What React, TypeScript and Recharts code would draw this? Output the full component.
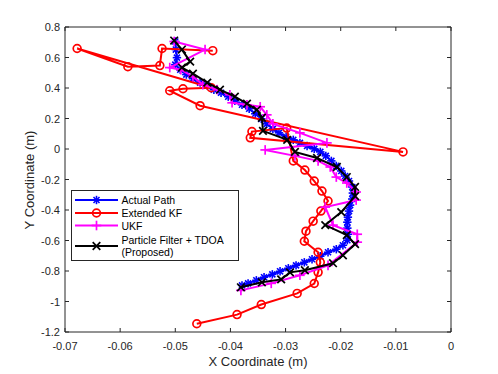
import React from 'react';
import { ScatterChart, Scatter, XAxis, YAxis } from 'recharts';

const actualX = [-0.0500,-0.0499,-0.0497,-0.0500,-0.0491,-0.0480,-0.0468,-0.0455,-0.0442,-0.0430,-0.0417,-0.0404,-0.0392,-0.0379,-0.0366,-0.0355,-0.0344,-0.0334,-0.0323,-0.0312,-0.0299,-0.0286,-0.0274,-0.0261,-0.0248,-0.0237,-0.0227,-0.0217,-0.0208,-0.0199,-0.0192,-0.0185,-0.0179,-0.0178,-0.0179,-0.0183,-0.0185,-0.0187,-0.0188,-0.0188,-0.0187,-0.0188,-0.0196,-0.0208,-0.0223,-0.0237,-0.0252,-0.0266,-0.0281,-0.0295,-0.0310,-0.0324,-0.0339,-0.0353,-0.0368,-0.0379];
const actualY = [0.705,0.652,0.599,0.553,0.520,0.488,0.461,0.435,0.415,0.389,0.369,0.343,0.316,0.290,0.264,0.231,0.198,0.165,0.132,0.106,0.080,0.060,0.040,0.020,0.001,-0.019,-0.045,-0.078,-0.111,-0.144,-0.177,-0.210,-0.249,-0.289,-0.328,-0.368,-0.407,-0.447,-0.480,-0.519,-0.559,-0.598,-0.631,-0.657,-0.677,-0.703,-0.723,-0.743,-0.763,-0.782,-0.802,-0.822,-0.841,-0.861,-0.881,-0.894];

const ekfX = [-0.0432,-0.0524,-0.0528,-0.0586,-0.0678,-0.0435,-0.0486,-0.0510,-0.0455,-0.0087,-0.0364,-0.0361,-0.0298,-0.0286,-0.0265,-0.0248,-0.0234,-0.0223,-0.0236,-0.0250,-0.0263,-0.0266,-0.0241,-0.0237,-0.0241,-0.0248,-0.0279,-0.0344,-0.0388,-0.0461];
const ekfY = [0.645,0.659,0.547,0.540,0.659,0.402,0.395,0.382,0.284,-0.019,0.073,0.114,0.137,-0.078,-0.138,-0.210,-0.276,-0.341,-0.407,-0.473,-0.539,-0.605,-0.677,-0.743,-0.809,-0.882,-0.947,-1.020,-1.086,-1.146];

const ukfX = [-0.0502,-0.0446,-0.0510,-0.0490,-0.0468,-0.0450,-0.0424,-0.0401,-0.0397,-0.0370,-0.0346,-0.0334,-0.0323,-0.0274,-0.0225,-0.0337,-0.0283,-0.0241,-0.0219,-0.0208,-0.0189,-0.0172,-0.0172,-0.0228,-0.0214,-0.0170,-0.0170,-0.0223,-0.0274,-0.0326,-0.0381];
const ukfY = [0.705,0.652,0.534,0.520,0.474,0.422,0.389,0.356,0.303,0.290,0.277,0.224,0.165,0.106,0.040,-0.006,-0.045,-0.078,-0.118,-0.184,-0.223,-0.282,-0.335,-0.381,-0.499,-0.559,-0.611,-0.763,-0.828,-0.881,-0.927];

const pfX = [-0.0502,-0.0488,-0.0473,-0.0488,-0.0468,-0.0442,-0.0419,-0.0392,-0.0370,-0.0352,-0.0343,-0.0341,-0.0297,-0.0283,-0.0243,-0.0207,-0.0189,-0.0174,-0.0174,-0.0199,-0.0228,-0.0189,-0.0174,-0.0196,-0.0214,-0.0265,-0.0292,-0.0308,-0.0343,-0.0381];
const pfY = [0.711,0.652,0.573,0.534,0.494,0.435,0.389,0.343,0.297,0.257,0.205,0.119,0.060,-0.019,-0.059,-0.118,-0.184,-0.249,-0.309,-0.414,-0.499,-0.565,-0.624,-0.697,-0.749,-0.795,-0.809,-0.855,-0.874,-0.907];

const xTicks = [-0.07,-0.06,-0.05,-0.04,-0.03,-0.02,-0.01,0];
const yTicks = [-1.2,-1,-0.8,-0.6,-0.4,-0.2,0,0.2,0.4,0.6,0.8];

const seriesNames = ['Actual Path','Extended KF','UKF','Particle Filter + TDOA','(Proposed)'];

const zip = (xs: number[], ys: number[]) => xs.map((x, i) => ({ x, y: ys[i] }));
const actualData = zip(actualX, actualY);
const ekfData = zip(ekfX, ekfY);
const ukfData = zip(ukfX, ukfY);
const pfData = zip(pfX, pfY);

const AXIS = '#262626';
const FONT = '"Liberation Sans", Arial, Helvetica, sans-serif';
const fmt = (v: number) => {
  const n = Number(v.toFixed(2));
  return n === 0 ? '0' : String(n);
};

const Star = ({ cx, cy, color = '#0000ff', r = 4.2 }: any) => {
  if (cx == null || cy == null) return null;
  const d = r * 0.72;
  return (
    <g stroke={color} strokeWidth={1.6}>
      <line x1={cx - r} y1={cy} x2={cx + r} y2={cy} />
      <line x1={cx} y1={cy - r} x2={cx} y2={cy + r} />
      <line x1={cx - d} y1={cy - d} x2={cx + d} y2={cy + d} />
      <line x1={cx - d} y1={cy + d} x2={cx + d} y2={cy - d} />
    </g>
  );
};
const Circ = ({ cx, cy, color = '#ff0000' }: any) => {
  if (cx == null || cy == null) return null;
  return <circle cx={cx} cy={cy} r={3.9} fill="none" stroke={color} strokeWidth={1.7} />;
};
const Plus = ({ cx, cy, color = '#ff00ff' }: any) => {
  if (cx == null || cy == null) return null;
  const r = 4.8;
  return (
    <g stroke={color} strokeWidth={1.7}>
      <line x1={cx - r} y1={cy} x2={cx + r} y2={cy} />
      <line x1={cx} y1={cy - r} x2={cx} y2={cy + r} />
    </g>
  );
};
const Cross = ({ cx, cy, color = '#000000' }: any) => {
  if (cx == null || cy == null) return null;
  const r = 3.8;
  return (
    <g stroke={color} strokeWidth={1.7}>
      <line x1={cx - r} y1={cy - r} x2={cx + r} y2={cy + r} />
      <line x1={cx - r} y1={cy + r} x2={cx + r} y2={cy - r} />
    </g>
  );
};

const BottomTick = ({ x, y, payload }: any) => (
  <g>
    <line x1={x} y1={y} x2={x} y2={y - 4} stroke={AXIS} strokeWidth={1} />
    <text x={x} y={y + 17.5} textAnchor="middle" fontSize={11} fill={AXIS} fontFamily={FONT}>
      {fmt(payload.value)}
    </text>
  </g>
);
const TopTick = ({ x, y }: any) => (
  <line x1={x} y1={y} x2={x} y2={y + 4} stroke={AXIS} strokeWidth={1} />
);
const LeftTick = ({ x, y, payload }: any) => (
  <g>
    <line x1={x} y1={y} x2={x + 4} y2={y} stroke={AXIS} strokeWidth={1} />
    <text x={x - 5} y={y + 4} textAnchor="end" fontSize={11} fill={AXIS} fontFamily={FONT}>
      {fmt(payload.value)}
    </text>
  </g>
);
const RightTick = ({ x, y }: any) => (
  <line x1={x} y1={y} x2={x - 4} y2={y} stroke={AXIS} strokeWidth={1} />
);

const LegendBox = () => {
  const lx1 = 75, lx2 = 118, mx = 96.5, tx = 121.5;
  const rows = [200, 213, 225.5, 246];
  return (
    <svg width={498} height={374} style={{ position: 'absolute', left: 0, top: 0, pointerEvents: 'none' }}>
      <rect x={71.5} y={190.5} width={167} height={70} fill="#ffffff" stroke={AXIS} strokeWidth={1} />
      <line x1={lx1} y1={rows[0]} x2={lx2} y2={rows[0]} stroke="#0000ff" strokeWidth={2} />
      <Star cx={mx} cy={rows[0]} />
      <line x1={lx1} y1={rows[1]} x2={lx2} y2={rows[1]} stroke="#ff0000" strokeWidth={2} />
      <Circ cx={mx} cy={rows[1]} />
      <line x1={lx1} y1={rows[2]} x2={lx2} y2={rows[2]} stroke="#ff00ff" strokeWidth={2} />
      <Plus cx={mx} cy={rows[2]} />
      <line x1={lx1} y1={rows[3]} x2={lx2} y2={rows[3]} stroke="#000000" strokeWidth={2} />
      <Cross cx={mx} cy={rows[3]} />
      <g fontFamily={FONT} fontSize={10.5} fill="#000000">
        <text x={tx} y={rows[0] + 4}>{seriesNames[0]}</text>
        <text x={tx} y={rows[1] + 4}>{seriesNames[1]}</text>
        <text x={tx} y={rows[2] + 4}>{seriesNames[2]}</text>
        <text x={tx} y={240 + 4}>{seriesNames[3]}</text>
        <text x={tx} y={252 + 4}>{seriesNames[4]}</text>
      </g>
    </svg>
  );
};

export default function App() {
  return (
    <div style={{ position: 'absolute', left: 0, top: 0, width: 498, height: 374, background: '#ffffff' }}>
      <ScatterChart width={498} height={374} margin={{ top: 22, right: 42, bottom: 12, left: 25 }}>
        <XAxis
          dataKey="x"
          type="number"
          domain={[-0.07, 0]}
          ticks={xTicks}
          allowDataOverflow
          stroke={AXIS}
          tickLine={false}
          tickSize={0}
          tickMargin={0}
          height={30}
          tick={<BottomTick />}
          interval={0}
        />
        <XAxis
          xAxisId="top"
          orientation="top"
          dataKey="x"
          type="number"
          domain={[-0.07, 0]}
          ticks={xTicks}
          allowDataOverflow
          stroke={AXIS}
          tickLine={false}
          tickSize={0}
          tickMargin={0}
          height={5}
          tick={<TopTick />}
          interval={0}
        />
        <YAxis
          dataKey="y"
          type="number"
          domain={[-1.2, 0.8]}
          ticks={yTicks}
          allowDataOverflow
          stroke={AXIS}
          tickLine={false}
          tickSize={0}
          tickMargin={0}
          width={40}
          tick={<LeftTick />}
          interval={0}
        />
        <YAxis
          yAxisId="right"
          orientation="right"
          dataKey="y"
          type="number"
          domain={[-1.2, 0.8]}
          ticks={yTicks}
          allowDataOverflow
          stroke={AXIS}
          tickLine={false}
          tickSize={0}
          tickMargin={0}
          width={5}
          tick={<RightTick />}
          interval={0}
        />
        <Scatter name="Actual Path" data={actualData} line={{ stroke: '#0000ff', strokeWidth: 2 }} shape={<Star />} isAnimationActive={false} />
        <Scatter name="Extended KF" data={ekfData} line={{ stroke: '#ff0000', strokeWidth: 2 }} shape={<Circ />} isAnimationActive={false} />
        <Scatter name="UKF" data={ukfData} line={{ stroke: '#ff00ff', strokeWidth: 2 }} shape={<Plus />} isAnimationActive={false} />
        <Scatter name="Particle Filter + TDOA (Proposed)" data={pfData} line={{ stroke: '#000000', strokeWidth: 2 }} shape={<Cross />} isAnimationActive={false} />
      </ScatterChart>
      <div style={{ position: 'absolute', left: 0, top: 0, width: 498, height: 374, pointerEvents: 'none' }}>
        <svg width={498} height={374} style={{ position: 'absolute', left: 0, top: 0 }}>
          <text x={258} y={366} textAnchor="middle" fontSize={13} fill={AXIS} fontFamily={FONT}>X Coordinate (m)</text>
          <text x={34} y={180} textAnchor="middle" fontSize={13} fill={AXIS} fontFamily={FONT} transform="rotate(-90 34 180)">Y Coordinate (m)</text>
        </svg>
      </div>
      <LegendBox />
    </div>
  );
}
